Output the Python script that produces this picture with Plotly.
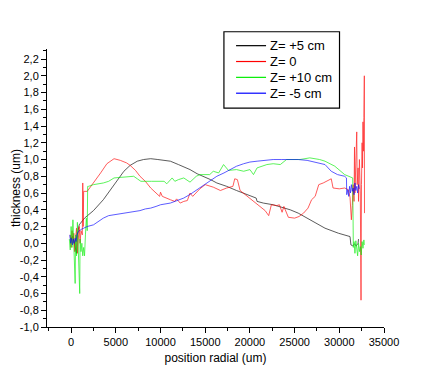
import plotly.graph_objects as go
import numpy as np

# ---- data ----
series_names = ["Z= +5 cm", "Z= 0", "Z= +10 cm", "Z= -5 cm"]
series_colors = ["black", "red", "#00ee00", "blue"]

x_p5 = [-100, 200, 400, 600, 700, 900, 1500, 2500, 3600, 4400, 5100, 5900, 6600, 7400, 8100,
        8900, 9700, 10500, 11100, 12000, 13300, 14100, 14800, 15600, 16300, 17400, 18500,
        19300, 20000, 20700, 20800, 21500, 22600, 23500, 24500, 25400, 26400, 27300, 28400,
        29900, 31200, 31300, 31500, 31700, 31900, 32100, 32150]
y_p5 = [0.05, 0.08, -0.02, -0.12, 0.10, 0.22, 0.30, 0.39, 0.52, 0.64, 0.75, 0.86, 0.93, 0.98, 1.00,
        1.01, 1.00, 0.99, 0.98, 0.94, 0.88, 0.83, 0.80, 0.76, 0.72, 0.68, 0.63,
        0.60, 0.57, 0.54, 0.50, 0.48, 0.46, 0.43, 0.40, 0.36, 0.30, 0.25, 0.18,
        0.12, 0.08, -0.02, -0.03, -0.01, -0.03, 0.00, 0.05]

x_0 = [-100, 0, 100, 200, 300, 400, 500, 600, 700, 800, 900, 1000, 1100, 1250, 1300, 1350, 1400,
       1800, 2500, 3300, 4000, 4800, 5500, 6200, 6600, 7200, 7700, 8300, 8900, 9500, 9900, 10000,
       10200, 11100, 11600, 11800, 12200, 12600, 13000, 13300, 13600, 14400, 15000, 15900, 16700,
       17400, 18100, 18300, 18600, 18900, 19500, 20000, 20600, 21100, 21700, 22100, 22400, 23000,
       23300, 23600, 23800, 24300, 25000, 25500, 26000, 26500, 26900, 27300, 27700, 28200, 28600,
       29100, 29300, 30000, 30600, 31000, 31200, 31350, 31450, 31550, 31650, 31700, 31750, 31850,
       31950, 32000, 32100, 32150, 32250, 32350, 32430, 32480, 32550, 32600, 32650, 32700, 32750,
       32800, 32820]
y_0 = [0.10, -0.05, 0.15, 0.00, 0.12, -0.10, 0.05, 0.18, -0.12, 0.08, 0.20, 0.00, 0.15, 0.10, 0.72,
       0.20, 0.62, 0.62, 0.72, 0.84, 0.95, 1.01, 0.99, 0.96, 0.93, 0.87, 0.80, 0.74, 0.66, 0.60,
       0.56, 0.61, 0.56, 0.52, 0.50, 0.53, 0.48, 0.50, 0.51, 0.60, 0.56, 0.65, 0.70, 0.67, 0.63,
       0.66, 0.68, 0.77, 0.76, 0.63, 0.58, 0.53, 0.48, 0.44, 0.39, 0.33, 0.46, 0.45, 0.46, 0.37,
       0.44, 0.31, 0.30, 0.32, 0.36, 0.42, 0.52, 0.56, 0.70, 0.72, 0.74, 0.77, 0.66, 0.65, 0.66,
       0.64, 0.55, 0.28, 0.45, 0.70, 0.50, 1.15, 0.60, 0.90, 1.33, 0.70, 0.90, 0.50, 1.00, 0.60,
       -0.68, 0.70, 1.20, 0.90, 1.45, 1.10, 1.50, 2.00, 0.36]

x_p10 = [-200, -100, 0, 100, 200, 300, 450, 500, 600, 700, 800, 960, 1000, 1100, 1200, 1300, 1400,
         1500, 1600, 1700, 1800, 1850, 1950, 2500, 3600, 4200, 4800, 5600, 6300, 7000, 7400, 7800,
         9000, 10000, 10400, 10700, 11300, 11600, 12000, 12600, 13300, 14000, 14400, 15500, 15900,
         16500, 17050, 17600, 18500, 19300, 20000, 20400, 20800, 21900, 22600, 23400, 24100, 25600,
         26700, 27800, 28400, 29500, 30600, 31500, 31570, 31650, 31750, 31850, 31950, 32050, 32150,
         32250, 32350, 32450, 32550, 32650, 32750, 32800]
y_p10 = [0.05, -0.08, 0.20, -0.05, 0.28, -0.10, -0.48, 0.10, -0.15, 0.25, -0.05, -0.60, 0.05, -0.10,
         0.00, -0.15, -0.05, -0.15, 0.10, 0.30, 0.15, 0.68, 0.68, 0.70, 0.72, 0.74, 0.78, 0.79, 0.80,
         0.80, 0.77, 0.74, 0.74, 0.74, 0.74, 0.71, 0.78, 0.74, 0.76, 0.78, 0.73, 0.80, 0.82, 0.82,
         0.86, 0.84, 0.94, 0.87, 0.88, 0.86, 0.88, 0.82, 0.90, 0.94, 0.95, 0.94, 1.00, 1.00, 1.02,
         1.00, 0.98, 0.92, 0.82, 0.78, -0.05, 0.02, -0.12, 0.03, -0.08, -0.15, 0.00, -0.10, -0.04,
         -0.14, 0.02, -0.06, 0.04, -0.02]

x_m5 = [-150, -50, 50, 150, 250, 350, 450, 550, 650, 800, 1200, 1800, 2500, 3000, 3600, 4200, 4800,
        5500, 6300, 7000, 7700, 8300, 8900, 9500, 10000, 11100, 12600, 13400, 14100, 14800, 15600,
        16300, 17100, 17800, 18500, 19300, 20000, 20800, 21700, 22600, 23500, 24500, 25400, 26400,
        27300, 28400, 29100, 29800, 30600, 30800, 30830, 30950, 31050, 31150, 31250, 31350, 31450,
        31550, 31650, 31750, 31850, 31950, 32050, 32150, 32240]
y_m5 = [0.10, 0.00, 0.06, -0.02, 0.05, 0.00, 0.06, 0.02, 0.10, 0.14, 0.17, 0.20, 0.22, 0.26, 0.30,
        0.33, 0.34, 0.36, 0.37, 0.38, 0.39, 0.41, 0.42, 0.44, 0.46, 0.48, 0.54, 0.59, 0.64, 0.69,
        0.74, 0.80, 0.84, 0.88, 0.92, 0.95, 0.97, 0.98, 0.99, 1.00, 1.00, 1.00, 1.00, 0.99, 0.97,
        0.94, 0.86, 0.82, 0.80, 0.78, 0.58, 0.64, 0.56, 0.68, 0.60, 0.70, 0.62, 0.66, 0.58, 0.72,
        0.63, 0.68, 0.60, 0.70, 0.65]

x_tick_vals = [0, 5000, 10000, 15000, 20000, 25000, 30000, 35000]
x_tick_text = ["0", "5000", "10000", "15000", "20000", "25000", "30000", "35000"]
y_tick_vals = [-1.0, -0.8, -0.6, -0.4, -0.2, 0.0, 0.2, 0.4, 0.6, 0.8, 1.0, 1.2, 1.4, 1.6, 1.8, 2.0, 2.2]
y_tick_text = ["-1,0", "-0,8", "-0,6", "-0,4", "-0,2", "0,0", "0,2", "0,4", "0,6", "0,8",
               "1,0", "1,2", "1,4", "1,6", "1,8", "2,0", "2,2"]
x_title = "position radial (um)"
y_title = "thickness (um)"

xs = [x_p5, x_0, x_p10, x_m5]
ys = [y_p5, y_0, y_p10, y_m5]

fig = go.Figure()
for name, color, xv, yv in zip(series_names, series_colors, xs, ys):
    fig.add_trace(go.Scatter(x=xv, y=yv, mode="lines", name=name, showlegend=False,
                             line=dict(color=color, width=0.8), opacity=0.8))

font_family = "Liberation Sans, Arial, sans-serif"

# ---- legend box (drawn in paper coordinates, compact like the original) ----
leg_x0, leg_x1, leg_y0, leg_y1 = 0.525, 0.868, 0.787, 1.062
line_x0, line_x1, text_x = 0.561, 0.650, 0.656
row_top, row_step = 1.012, 0.057
shapes = [dict(type="rect", xref="paper", yref="paper", x0=leg_x0, x1=leg_x1,
               y0=leg_y0, y1=leg_y1, line=dict(color="black", width=1.2),
               fillcolor="white", layer="above")]
annotations = []
for i, (name, color) in enumerate(zip(series_names, series_colors)):
    yy = row_top - i * row_step
    shapes.append(dict(type="line", xref="paper", yref="paper", x0=line_x0, x1=line_x1,
                       y0=yy, y1=yy, line=dict(color=color, width=1.2), layer="above"))
    annotations.append(dict(text=name, xref="paper", yref="paper", x=text_x, y=yy,
                            xanchor="left", yanchor="middle", showarrow=False,
                            font=dict(size=13, family=font_family, color="black")))

# y-axis title placed as rotated text
annotations.append(dict(text=y_title, xref="paper", yref="paper", x=-0.092, y=0.5,
                        xanchor="center", yanchor="middle", textangle=-90, showarrow=False,
                        font=dict(size=12, family=font_family, color="black")))

fig.update_layout(
    width=426, height=376,
    margin=dict(l=39, r=50, t=41, b=57, autoexpand=False),
    paper_bgcolor="white", plot_bgcolor="white",
    font=dict(family=font_family, size=11, color="black"),
    showlegend=False,
    shapes=shapes, annotations=annotations,
)
fig.update_xaxes(
    range=[-2700, 35000], showline=True, linecolor="black", linewidth=1, automargin=False,
    showgrid=False, zeroline=False, ticks="outside", ticklen=5, tickcolor="black",
    tickmode="array", tickvals=x_tick_vals, ticktext=x_tick_text,
    minor=dict(tickmode="array", tickvals=list(np.arange(-2500, 35001, 2500)),
               ticks="outside", ticklen=3, tickcolor="black"),
    title=dict(text=x_title, font=dict(size=12), standoff=6),
)
fig.update_yaxes(
    range=[-1.0, 2.32], showline=True, linecolor="black", linewidth=1, automargin=False,
    showgrid=False, zeroline=False, ticks="outside", ticklen=5, tickcolor="black",
    tickmode="array", tickvals=y_tick_vals, ticktext=y_tick_text,
    minor=dict(tickmode="array", tickvals=list(np.round(np.arange(-1.0, 2.31, 0.1), 2)),
               ticks="outside", ticklen=3, tickcolor="black"),
)

fig.write_html("out.html")
